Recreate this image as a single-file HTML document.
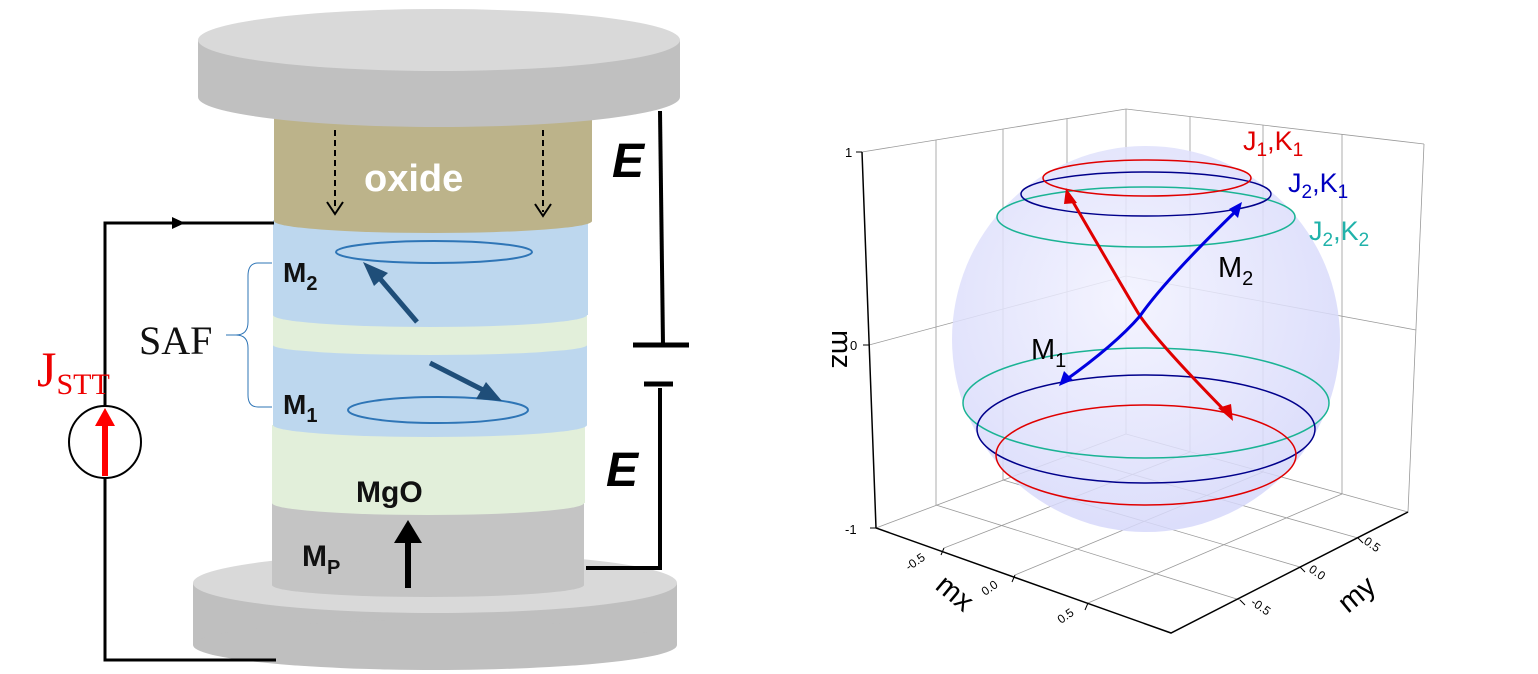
<!DOCTYPE html>
<html><head><style>body{margin:0;background:#fff}svg{display:block}</style></head><body>
<svg width="1538" height="674" viewBox="0 0 1538 674" xmlns="http://www.w3.org/2000/svg" font-family="Liberation Sans, Arial, sans-serif">
<defs>
<radialGradient id="sph" cx="0.45" cy="0.4" r="0.6"><stop offset="0" stop-color="#f2f2ff"/><stop offset="1" stop-color="#d6d8fa"/></radialGradient>
</defs>
<rect x="193" y="583" width="484" height="62" fill="#bfbfbf"/>
<ellipse cx="435" cy="645" rx="242" ry="25" fill="#bfbfbf"/>
<ellipse cx="435" cy="583" rx="242" ry="30" fill="#d9d9d9"/>
<rect x="272" y="503" width="312" height="82" fill="#c4c4c4"/>
<ellipse cx="428" cy="585" rx="156" ry="12" fill="#c4c4c4"/>
<rect x="272" y="425" width="313" height="78" fill="#e2efda"/>
<ellipse cx="428" cy="503" rx="156" ry="12" fill="#e2efda"/>
<rect x="273" y="345" width="314" height="80" fill="#bdd7ee"/>
<ellipse cx="430" cy="425" rx="157" ry="12" fill="#bdd7ee"/>
<rect x="273" y="315" width="314" height="30" fill="#e2efda"/>
<ellipse cx="430" cy="345" rx="157" ry="10" fill="#e2efda"/>
<rect x="273" y="220" width="315" height="95" fill="#bdd7ee"/>
<ellipse cx="430" cy="315" rx="157" ry="12" fill="#bdd7ee"/>
<rect x="274" y="110" width="318" height="111" fill="#bcb38a"/>
<ellipse cx="433" cy="221" rx="159" ry="12" fill="#bcb38a"/>
<rect x="198" y="40" width="482" height="57" fill="#c0c0c0"/>
<ellipse cx="439" cy="97" rx="241" ry="30" fill="#c0c0c0"/>
<ellipse cx="439" cy="40" rx="241" ry="31" fill="#d9d9d9"/>
<text x="364" y="191" font-size="38" font-weight="bold" fill="#fff">oxide</text>
<g stroke="#000" stroke-width="2" stroke-dasharray="6,4" fill="none"><line x1="335" y1="130" x2="335" y2="210"/><line x1="543" y1="130" x2="543" y2="212"/></g>
<path d="M327,202 L335,214 L343,202 M535,204 L543,216 L551,204" stroke="#000" stroke-width="2" fill="none"/>
<ellipse cx="434" cy="252" rx="98" ry="11" fill="none" stroke="#2e75b6" stroke-width="2"/>
<ellipse cx="438" cy="410" rx="90" ry="13" fill="none" stroke="#2e75b6" stroke-width="2"/>
<line x1="417" y1="322" x2="376" y2="274" stroke="#1f4e79" stroke-width="5"/>
<path d="M363,262 L388,273 L374,286z" fill="#1f4e79"/>
<line x1="430" y1="363" x2="485" y2="391" stroke="#1f4e79" stroke-width="5"/>
<path d="M502,401 L476,399 L486,382z" fill="#1f4e79"/>
<text x="283" y="282" font-size="28" font-weight="bold" fill="#111">M<tspan font-size="20" dy="8">2</tspan></text>
<text x="283" y="414" font-size="28" font-weight="bold" fill="#111">M<tspan font-size="20" dy="8">1</tspan></text>
<text x="356" y="502" font-size="30" font-weight="bold" fill="#111">MgO</text>
<text x="302" y="566" font-size="30" font-weight="bold" fill="#111">M<tspan font-size="20" dy="8">P</tspan></text>
<line x1="408" y1="588" x2="408" y2="535" stroke="#000" stroke-width="6"/>
<path d="M394,543 L408,520 L422,543z" fill="#000"/>
<path d="M272,263 L258,263 Q248,263 248,276 L248,322 Q248,335 236,335 Q248,335 248,348 L248,395 Q248,407 258,407 L272,407" fill="none" stroke="#2e75b6" stroke-width="1"/>
<line x1="226" y1="335" x2="237" y2="335" stroke="#2e75b6" stroke-width="1"/>
<text x="139" y="354" font-size="40" font-family="Liberation Serif, serif" fill="#111">SAF</text>
<path d="M274,223 L105,223 L105,660 L276,660" fill="none" stroke="#000" stroke-width="3"/>
<path d="M172,217 L185,223 L172,229z" fill="#000"/>
<circle cx="105" cy="442" r="36" fill="#fff" stroke="#000" stroke-width="2"/>
<line x1="105" y1="476" x2="105" y2="420" stroke="#f00" stroke-width="6"/>
<path d="M95,426 L105,408 L115,426z" fill="#f00"/>
<text x="37" y="386" font-size="50" font-family="Liberation Serif, serif" fill="#e00">J<tspan font-size="30" dy="8">STT</tspan></text>
<path d="M660,111 L663,345" stroke="#000" stroke-width="4" fill="none"/>
<line x1="633" y1="345" x2="689" y2="345" stroke="#000" stroke-width="5"/>
<line x1="644" y1="384" x2="673" y2="384" stroke="#000" stroke-width="5"/>
<path d="M660,388 L660,568 L586,568" stroke="#000" stroke-width="4" fill="none"/>
<text x="612" y="177" font-size="48" font-weight="bold" font-style="italic" fill="#000">E</text>
<text x="606" y="486" font-size="48" font-weight="bold" font-style="italic" fill="#000">E</text>

<g stroke="#999" stroke-width="0.8" fill="none">
<path d="M862,152 L1126,109 L1424,144 M1126,109 L1126,434 L876,528 M1126,434 L1408,512 L1424,144"/>
<path d="M869,345 L1126,276 L1416,330"/>
<path d="M936,140 L936,505 M1003,129 L1003,480 M1067,119 L1067,456 M1190,117 L1190,452 M1263,125 L1263,472 M1342,134 L1342,494"/>
<path d="M1240,600 L936,505 M1300,567 L1003,480 M1358,538 L1067,456"/>
<path d="M944,548 L1190,452 M1015,575 L1263,472 M1088,603 L1342,494"/>
</g>
<ellipse cx="1146" cy="339" rx="194" ry="193" fill="url(#sph)" opacity="0.85"/>
<g stroke="#000" stroke-width="1.5" fill="none"><path d="M862,152 L876,528 L1171,633 L1408,512"/></g>
<g stroke="#000" stroke-width="1"><path d="M856,152 L862,152 M863,345 L869,345 M870,528 L876,528"/>
<path d="M944,548 L941,555 M1015,575 L1012,582 M1088,603 L1085,610 M1240,600 L1245,605 M1300,567 L1305,572 M1358,538 L1363,543"/></g>
<g font-size="13" fill="#000"><text x="845" y="157">1</text><text x="850" y="350">0</text><text x="845" y="534">-1</text></g>
<g font-size="12" fill="#000">
<text transform="translate(909,571) rotate(-35)">-0.5</text>
<text transform="translate(985,596) rotate(-35)">0.0</text>
<text transform="translate(1061,624) rotate(-35)">0.5</text>
<text transform="translate(1363,543) rotate(35)">0.5</text>
<text transform="translate(1308,571) rotate(35)">0.0</text>
<text transform="translate(1250,604) rotate(35)">-0.5</text>
</g>
<text transform="translate(832,330) rotate(90)" font-size="29" fill="#000">mz</text>
<text transform="translate(934,588) rotate(40)" font-size="29" fill="#000">mx</text>
<text transform="translate(1348,614) rotate(-40)" font-size="29" fill="#000">my</text>
<g fill="none" stroke-width="1.5">
<ellipse cx="1146" cy="403" rx="183" ry="55" stroke="#1ab394"/>
<ellipse cx="1146" cy="429" rx="169" ry="54" stroke="#00008b"/>
<ellipse cx="1146" cy="455" rx="150" ry="50" stroke="#e00000"/>
<ellipse cx="1146" cy="217" rx="149" ry="30" stroke="#1ab394"/>
<ellipse cx="1146" cy="194" rx="125" ry="22" stroke="#00008b"/>
<ellipse cx="1147" cy="178" rx="104" ry="18" stroke="#e00000"/>
</g>
<path d="M1069,195 Q1130,300 1140,316 Q1160,345 1230,416" fill="none" stroke="#e00000" stroke-width="3"/>
<path d="M1066,188 L1077,203 L1064,204z M1233,421 L1218,408 L1231,404z" fill="#e00000"/>
<path d="M1238,209 Q1165,280 1140,316 Q1115,345 1063,382" fill="none" stroke="#0000e0" stroke-width="3"/>
<path d="M1242,202 L1238,218 L1229,209z M1059,386 L1064,371 L1073,380z" fill="#0000e0"/>
<text x="1218" y="277" font-size="29" fill="#000">M<tspan font-size="20" dy="8">2</tspan></text>
<text x="1031" y="359" font-size="29" fill="#000">M<tspan font-size="20" dy="8">1</tspan></text>
<text x="1243" y="150" font-size="27" fill="#e00000">J<tspan font-size="19" dy="6">1</tspan><tspan dy="-6">,K</tspan><tspan font-size="19" dy="6">1</tspan></text>
<text x="1288" y="192" font-size="27" fill="#0000c0">J<tspan font-size="19" dy="6">2</tspan><tspan dy="-6">,K</tspan><tspan font-size="19" dy="6">1</tspan></text>
<text x="1309" y="240" font-size="27" fill="#20b2aa">J<tspan font-size="19" dy="6">2</tspan><tspan dy="-6">,K</tspan><tspan font-size="19" dy="6">2</tspan></text>
</svg>
</body></html>
